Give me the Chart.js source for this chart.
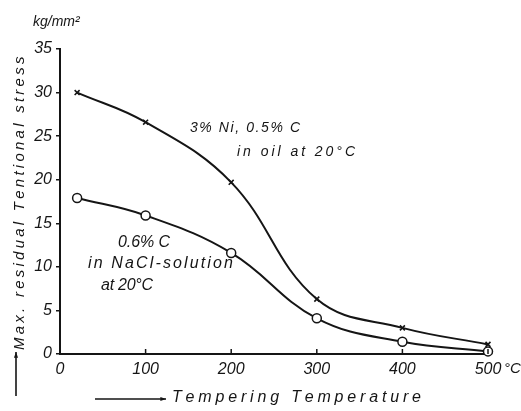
<!DOCTYPE html>
<html>
<head>
<meta charset="utf-8">
<script src="https://cdn.jsdelivr.net/npm/chart.js@4.4.1/dist/chart.umd.min.js"></script>
<style>
  html, body { margin: 0; padding: 0; background: #fff; }
  #wrap { width: 521px; height: 411px; position: relative; }
</style>
</head>
<body>
<div id="wrap"><canvas id="chart"></canvas></div>
<script>
// Tempering temperature (°C)
const temperatures = [20, 100, 200, 300, 400, 500];
// Max. residual stress, kg/mm²
const stressNiSteelOil = [30.0, 26.6, 19.7, 6.3, 3.0, 1.1];
const stressCSteelBrine = [17.9, 15.9, 11.6, 4.1, 1.4, 0.3];

const xTickValues = [0, 100, 200, 300, 400, 500];
const yTickValues = [0, 5, 10, 15, 20, 25, 30, 35];

const INK = '#151515';
const FONT = '"Liberation Sans", Arial, sans-serif';

const toPoints = (ys) => temperatures.map((t, i) => ({ x: t, y: ys[i] }));

// draw text stretched over a given width by spacing out its letters
function spacedText(ctx, text, x, y, width) {
  const chars = [...text];
  const natural = ctx.measureText(text).width;
  const gap = chars.length > 1 ? (width - natural) / (chars.length - 1) : 0;
  let cx = x;
  chars.forEach(ch => {
    ctx.fillText(ch, cx, y);
    cx += ctx.measureText(ch).width + gap;
  });
}

function arrow(ctx, x1, y1, x2, y2) {
  const a = Math.atan2(y2 - y1, x2 - x1);
  ctx.beginPath();
  ctx.moveTo(x1, y1);
  ctx.lineTo(x2, y2);
  ctx.stroke();
  ctx.beginPath();
  ctx.moveTo(x2, y2);
  ctx.lineTo(x2 - 6 * Math.cos(a - 0.35), y2 - 6 * Math.sin(a - 0.35));
  ctx.lineTo(x2 - 6 * Math.cos(a + 0.35), y2 - 6 * Math.sin(a + 0.35));
  ctx.closePath();
  ctx.fill();
}

const labelsPlugin = {
  id: 'labels',
  afterDraw(chart) {
    const { ctx, scales: { x, y } } = chart;
    ctx.save();
    ctx.fillStyle = INK;
    ctx.strokeStyle = INK;
    ctx.textBaseline = 'middle';
    ctx.textAlign = 'left';

    // small inward tick marks on the temperature axis
    ctx.lineWidth = 1.5;
    xTickValues.slice(1).forEach(v => {
      const px = x.getPixelForValue(v);
      ctx.beginPath();
      ctx.moveTo(px, y.bottom);
      ctx.lineTo(px, y.bottom - 5);
      ctx.stroke();
    });

    // unit
    ctx.font = 'italic 14px ' + FONT;
    ctx.fillText('kg/mm²', 33, 22);

    // degree sign after the last tick
    ctx.font = 'italic 15px ' + FONT;
    ctx.fillText('°C', x.getPixelForValue(500) + 16, 369);

    // axis titles with arrows
    ctx.lineWidth = 1.6;
    arrow(ctx, 16, 396, 16, 352);
    arrow(ctx, 95, 399, 166, 399);

    ctx.font = 'italic 16px ' + FONT;
    spacedText(ctx, 'Tempering Temperature', 172, 398, 246);

    ctx.save();
    ctx.translate(20, 350);
    ctx.rotate(-Math.PI / 2);
    ctx.font = 'italic 15px ' + FONT;
    spacedText(ctx, 'Max. residual Tentional stress', 0, 0, 292);
    ctx.restore();

    // curve notes
    ctx.font = 'italic 14px ' + FONT;
    spacedText(ctx, '3% Ni, 0.5% C', 190, 128, 110);
    spacedText(ctx, 'in oil at 20°C', 237, 152, 118);

    ctx.font = 'italic 16px ' + FONT;
    spacedText(ctx, '0.6% C', 118, 243, 52);
    spacedText(ctx, 'in NaCl-solution', 88, 264, 145);
    spacedText(ctx, 'at 20°C', 101, 286, 52);

    ctx.restore();
  }
};

const ctx = document.getElementById('chart').getContext('2d');
new Chart(ctx, {
  type: 'line',
  data: {
    datasets: [
      {
        label: '3% Ni, 0.5% C in oil',
        data: toPoints(stressNiSteelOil),
        borderColor: INK,
        borderWidth: 2,
        tension: 0.4,
        clip: false,
        pointStyle: 'crossRot',
        pointRadius: 3.5,
        pointBorderWidth: 1.6,
        pointBorderColor: INK,
        pointBackgroundColor: INK,
      },
      {
        label: '0.6% C in NaCl-solution',
        data: toPoints(stressCSteelBrine),
        borderColor: INK,
        borderWidth: 2,
        tension: 0.4,
        clip: false,
        pointStyle: 'circle',
        pointRadius: 4.5,
        pointBorderWidth: 1.5,
        pointBorderColor: INK,
        pointBackgroundColor: '#fff',
      },
    ],
  },
  options: {
    responsive: true,
    maintainAspectRatio: false,
    animation: false,
    layout: { padding: { top: 49, right: 33, left: 0, bottom: 0 } },
    plugins: {
      legend: { display: false },
      tooltip: { enabled: false },
    },
    scales: {
      x: {
        type: 'linear',
        min: 0,
        max: 500,
        afterBuildTicks: (s) => { s.ticks = xTickValues.map(v => ({ value: v })); },
        afterFit: (s) => { s.height = 57; },
        ticks: {
          color: INK,
          padding: 6,
          maxRotation: 0,
          font: { family: FONT, style: 'italic', size: 16 },
        },
        grid: { display: false, drawTicks: false },
        border: { display: true, color: INK, width: 2 },
      },
      y: {
        type: 'linear',
        min: 0,
        max: 35,
        afterBuildTicks: (s) => { s.ticks = yTickValues.map(v => ({ value: v })); },
        afterFit: (s) => { s.width = 60; },
        ticks: {
          color: INK,
          padding: 4,
          font: { family: FONT, style: 'italic', size: 16 },
        },
        grid: { display: true, drawOnChartArea: false, drawTicks: true, tickLength: 4, color: INK, lineWidth: 1.5 },
        border: { display: true, color: INK, width: 2 },
      },
    },
  },
  plugins: [labelsPlugin],
});
</script>
</body>
</html>
